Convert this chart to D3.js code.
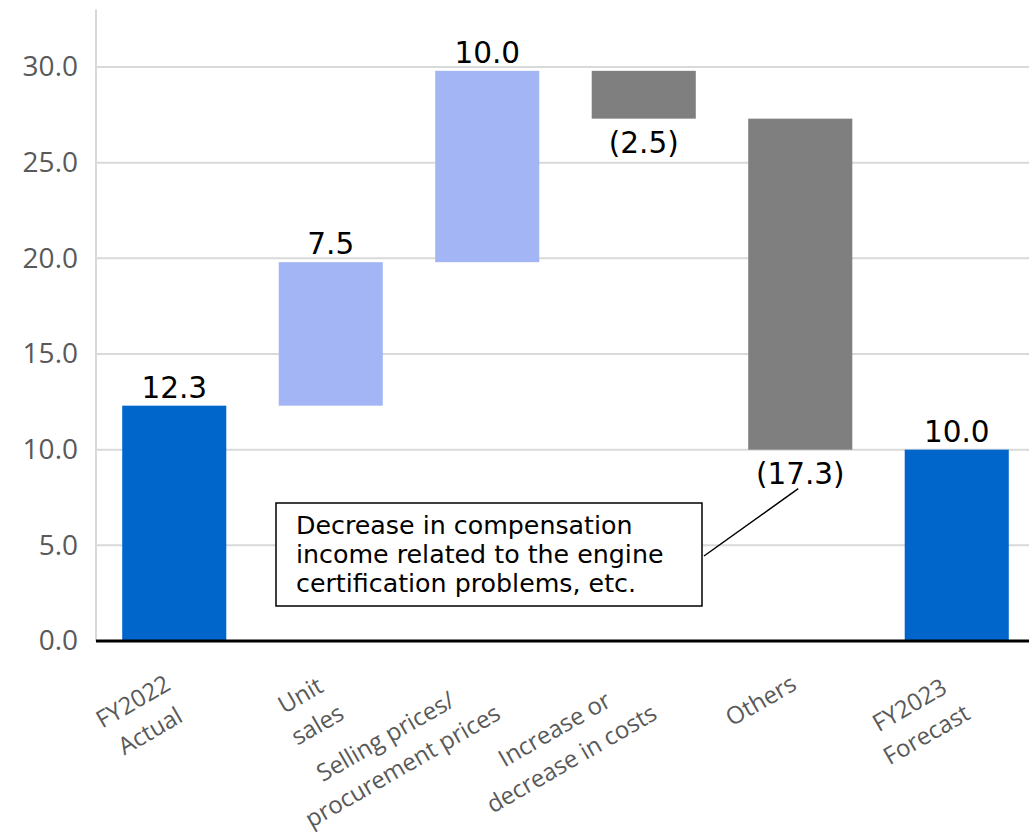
<!DOCTYPE html>
<html>
<head>
<meta charset="utf-8">
<script src="https://cdn.jsdelivr.net/npm/d3@7/dist/d3.min.js"></script>
<style>
  html, body { margin: 0; padding: 0; background: #ffffff; }
  svg { display: block; }
</style>
</head>
<body>
<svg id="chart" width="1029" height="834"></svg>
<script>
// Operating profit bridge, FY2022 actual to FY2023 forecast
const categories = ["FY2022 Actual", "Unit sales", "Selling prices/procurement prices",
                    "Increase or decrease in costs", "Others", "FY2023 Forecast"];
const categoryLines = [
  ["FY2022", "Actual"],
  ["Unit", "sales"],
  ["Selling prices/", "procurement prices"],
  ["Increase or", "decrease in costs"],
  ["Others"],
  ["FY2023", "Forecast"]
];
const values = [12.3, 7.5, 10.0, -2.5, -17.3, 10.0];
const kinds = ["total", "delta", "delta", "delta", "delta", "total"];
const yTicks = [0, 5, 10, 15, 20, 25, 30];
const noteLines = ["Decrease in compensation", "income related to the engine", "certification problems, etc."];

const colors = { total: "#0066CC", up: "#A4B5F5", down: "#7F7F7F" };

const svg = d3.select("#chart");
const W = 1029;
const plotLeft = 96, plotRight = 1035, plotBottom = 641;

const x = d3.scaleBand()
  .domain(categories)
  .range([plotLeft, plotRight])
  .paddingInner(0.335)
  .paddingOuter(0.1675);

const y = d3.scaleLinear().domain([0, 33]).range([plotBottom, 9.6]);

// Build floating segments for the waterfall
let running = 0;
const bars = categories.map((c, i) => {
  let start, end;
  if (kinds[i] === "total") { start = 0; end = values[i]; running = values[i]; }
  else { start = running; end = running + values[i]; running = end; }
  const color = kinds[i] === "total" ? colors.total : (values[i] >= 0 ? colors.up : colors.down);
  return { c, i, v: values[i], start, end, color };
});

// Gridlines
svg.append("g")
  .selectAll("line")
  .data(yTicks.filter(t => t > 0))
  .join("line")
  .attr("x1", plotLeft).attr("x2", W)
  .attr("y1", d => y(d)).attr("y2", d => y(d))
  .attr("stroke", "#d9d9d9").attr("stroke-width", 2);

// Vertical axis line
svg.append("line")
  .attr("x1", plotLeft).attr("x2", plotLeft)
  .attr("y1", y(33)).attr("y2", plotBottom)
  .attr("stroke", "#d9d9d9").attr("stroke-width", 2);

// Y tick labels
const yAxis = d3.axisLeft(y).tickValues(yTicks).tickFormat(d3.format(".1f")).tickSize(0).tickPadding(18);
const yg = svg.append("g").attr("transform", `translate(${plotLeft},0)`).call(yAxis);
yg.select(".domain").remove();
yg.selectAll("text")
  .attr("fill", "#595959")
  .style("font-family", "'Open Sans', sans-serif")
  .style("font-size", "28px");

// Bars
svg.append("g")
  .selectAll("rect")
  .data(bars)
  .join("rect")
  .attr("x", d => x(d.c))
  .attr("width", x.bandwidth())
  .attr("y", d => y(Math.max(d.start, d.end)))
  .attr("height", d => Math.abs(y(d.start) - y(d.end)))
  .attr("fill", d => d.color);

// Baseline
svg.append("line")
  .attr("x1", plotLeft).attr("x2", W)
  .attr("y1", plotBottom).attr("y2", plotBottom)
  .attr("stroke", "#000").attr("stroke-width", 3);

// Value labels
const fmt = d3.format(".1f");
svg.append("g")
  .selectAll("text")
  .data(bars)
  .join("text")
  .attr("x", d => x(d.c) + x.bandwidth() / 2)
  .attr("y", d => d.v >= 0 ? y(d.end) - 8 : y(d.end) + 34)
  .attr("text-anchor", "middle")
  .style("font-family", "'DejaVu Sans', Verdana, sans-serif")
  .style("font-size", "29.5px")
  .attr("fill", "#000")
  .text(d => d.v >= 0 ? fmt(d.v) : `(${fmt(-d.v)})`);

// Rotated category labels
const catG = svg.append("g");
categoryLines.forEach((lines, i) => {
  const cx = x(categories[i]) + x.bandwidth() / 2;
  const g = catG.append("g").attr("transform", `translate(${cx - 15},666) rotate(-30)`);
  const texts = lines.map((t, k) => g.append("text")
    .attr("y", 26 + 34 * k)
    .attr("text-anchor", "middle")
    .attr("fill", "#595959")
    .style("font-family", "'Open Sans', sans-serif")
    .style("font-size", "24px")
    .text(t));
  const wMax = d3.max(texts, t => t.node().getComputedTextLength());
  texts.forEach(t => t.attr("x", -wMax / 2));
});

// Callout box for the "Others" item
const box = { x: 276, y: 503, w: 426, h: 103 };
const othersBar = bars[4];
const labelX = x(othersBar.c) + x.bandwidth() / 2 - 2;
const labelY = y(othersBar.end) + 39;
svg.append("line")
  .attr("x1", box.x + box.w + 2).attr("y1", 556)
  .attr("x2", labelX).attr("y2", labelY)
  .attr("stroke", "#000").attr("stroke-width", 1.5);
svg.append("rect")
  .attr("x", box.x).attr("y", box.y).attr("width", box.w).attr("height", box.h)
  .attr("fill", "#fff").attr("stroke", "#000").attr("stroke-width", 1.5);
svg.append("g")
  .selectAll("text")
  .data(noteLines)
  .join("text")
  .attr("x", 296)
  .attr("y", (d, k) => 534 + 29 * k)
  .style("font-family", "'DejaVu Sans', Verdana, sans-serif")
  .style("font-size", "25.3px")
  .attr("fill", "#000")
  .text(d => d);
</script>
</body>
</html>
